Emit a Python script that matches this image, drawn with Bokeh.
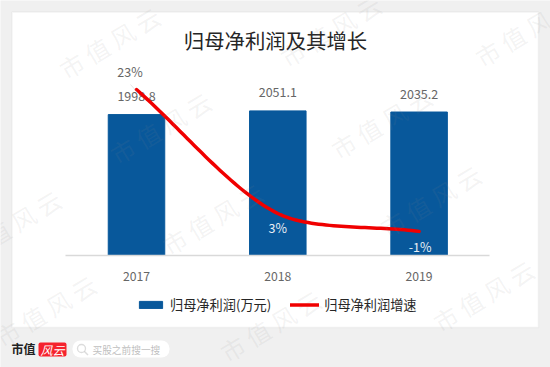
from bokeh.plotting import figure
from bokeh.embed import file_html
from bokeh.resources import INLINE
from bokeh.core.properties import value
from bokeh.models import (ColumnDataSource, Range1d, Label, BoxAnnotation, PolyAnnotation,
                          Legend, LegendItem, LinearAxis, FixedTicker)
import numpy as np

years = ["2017", "2018", "2019"]
x_pos = [0.5, 1.5, 2.5]
profit = [1998.8, 2051.1, 2035.2]
profit_labels = ["1998.8", "2051.1", "2035.2"]
growth = [23.4, 2.6, -0.4]
growth_labels = ["23%", "3%", "-1%"]
title_text = "归母净利润及其增长"
legend_bar = "归母净利润(万元)"
legend_line = "归母净利润增速"
watermark = "市 值 风 云"

CJK = "Noto Sans CJK SC"
W, H = 550, 367

# plot scales span the whole canvas; axis baseline is placed at value 0 inside it
p = figure(width=W, height=H, x_range=Range1d(-0.4625, 3.43), y_range=Range1d(-1588.65, 3617),
           x_axis_location=None, y_axis_location=None,
           output_backend="svg", toolbar_location=None,
           min_border=0, min_border_left=0, min_border_right=0, min_border_top=0, min_border_bottom=0,
           background_fill_color="#f0f0f0", border_fill_color="#f0f0f0", outline_line_color=None)
p.extra_y_ranges = {"g": Range1d(-23.24, 38.34)}
p.grid.visible = False

ax = LinearAxis(ticker=FixedTicker(ticks=x_pos), fixed_location=0, bounds=(0, 3),
                major_label_overrides={x: y for x, y in zip(x_pos, years)})
ax.axis_line_color = "#d9d9d9"
ax.axis_line_width = 1.5
ax.major_tick_line_color = None
ax.minor_tick_line_color = None
ax.major_label_text_font = CJK
ax.major_label_text_font_size = "12.2px"
ax.major_label_text_color = "#666666"
ax.major_label_standoff = 11
p.add_layout(ax, "below")


def box(l, r, t, b, fill, line=None, lw=1, radius=0, level="annotation"):
    p.add_layout(BoxAnnotation(left=l, right=r, top=t, bottom=b,
                               left_units="canvas", right_units="canvas",
                               top_units="canvas", bottom_units="canvas",
                               fill_color=fill, fill_alpha=1 if fill else 0,
                               line_color=line, line_width=lw, border_radius=radius,
                               level=level, editable=False))


def label(x, y, text, size, color, font=CJK, style="normal", angle=0, align="center"):
    p.add_layout(Label(x=x, y=y, text=text, text_font=font, text_font_size=f"{size}px",
                       text_font_style=style, text_color=color, angle=angle, angle_units="deg",
                       text_align=align, text_baseline="middle", x_units="canvas", y_units="canvas"))


def poly(xs, ys, color, width):
    p.add_layout(PolyAnnotation(xs=xs, ys=ys, xs_units="canvas", ys_units="canvas",
                                fill_alpha=0, line_color=color, line_width=width))


# white card behind the chart
box(11.5, 538, 11.5, 327, "#ffffff", "#d9d9d9", 1.5, level="underlay")

label(275, 39, title_text, 20.4, "#262626")

bars = p.vbar(x=x_pos, top=profit, width=0.4, color="#08589b")
src = ColumnDataSource(dict(x=x_pos, y=profit, t=profit_labels))
p.text(x="x", y="y", text="t", source=src, y_offset=-18.5, text_align="center", text_baseline="middle",
       text_font=value(CJK), text_font_size="12.5px", text_color="#666666")

# smoothed growth curve through the three values (Bezier, damped tangents)
xp = np.array(x_pos)
yp = np.array(growth, dtype=float)
pts = np.column_stack([xp, yp])
tan = (pts[2] - pts[0]) / 6
segs = [(pts[0], pts[0] + (pts[1] - pts[0]) / 3, pts[1] - 1.0 * tan, pts[1]),
        (pts[1], pts[1] + 0.7 * tan, pts[2] - (pts[2] - pts[1]) / 3, pts[2])]
t = np.linspace(0, 1, 40)[:, None]
curve = np.vstack([(1 - t) ** 3 * a + 3 * (1 - t) ** 2 * t * b + 3 * (1 - t) * t ** 2 * c + t ** 3 * d
                   for a, b, c, d in segs])
line = p.line(curve[:, 0], curve[:, 1], y_range_name="g", line_color="#f00000", line_width=3.5,
              line_cap="round", line_join="round")

gsrc = ColumnDataSource(dict(x=x_pos, y=growth, t=growth_labels,
                             dx=[-6.5, 0, 1], dy=[-18, 14, 15],
                             c=["#666666", "#e8eef5", "#e8eef5"]))
p.text(x="x", y="y", text="t", source=gsrc, y_range_name="g", x_offset="dx", y_offset="dy",
       text_align="center", text_baseline="middle", text_font=value(CJK), text_font_size="12.5px",
       text_color="c")
poly([130, 137], [84, 92], "#a6a6a6", 1)

legend = Legend(items=[LegendItem(label=legend_bar, renderers=[bars]),
                       LegendItem(label=legend_line, renderers=[line])],
                orientation="horizontal", location=(136, 53), background_fill_alpha=0,
                border_line_color=None, glyph_width=29, glyph_height=9, label_standoff=5,
                spacing=19, padding=2, margin=0,
                label_text_font=CJK, label_text_font_size="13.2px", label_text_color="#262626")
p.add_layout(legend, "center")

# footer
label(11, 348, "市值", 12, "#222222", style="bold", align="left")
box(38, 66, 342, 356, "#f5222d", radius=2)
label(52, 349, "风云", 12, "#ffffff", style="italic")
box(72, 169, 340, 357, "#ffffff", radius=8)
box(77, 85, 344, 352, None, "#8c8c8c", 1.3, radius=4)
poly([84, 87.5], [351, 354.5], "#8c8c8c", 1.5)
label(92, 349, "买股之前搜一搜", 9.7, "#bfbfbf", align="left")

# watermarks
for cx, cy in [(109, 42), (160, 127), (330, 30), (381, 122), (525, 30), (10, 225), (212, 218),
               (45, 310), (270, 325), (430, 200), (483, 295)]:
    label(cx, cy, watermark, 24, "rgba(140,140,140,0.10)", angle=31)

open("out.html", "w").write(file_html(p, INLINE))
